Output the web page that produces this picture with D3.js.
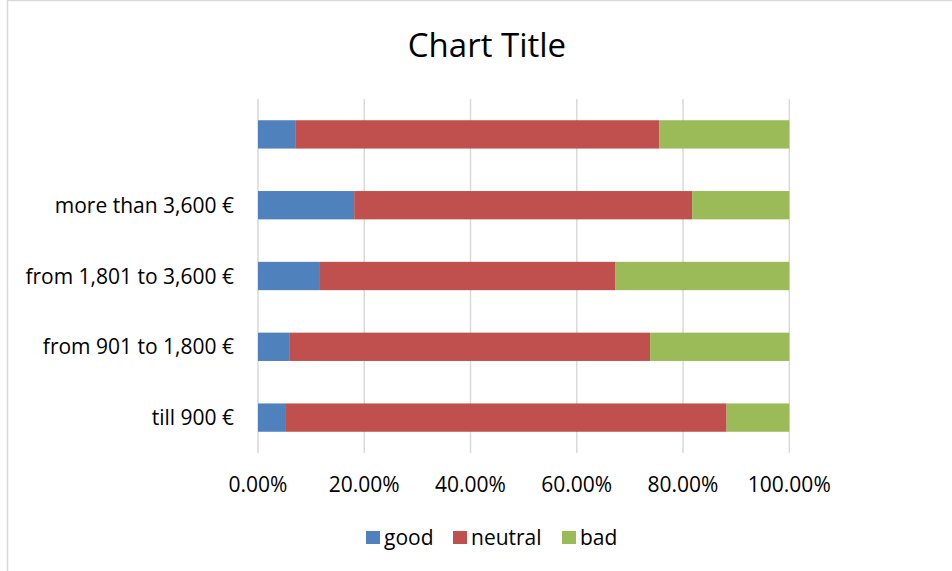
<!DOCTYPE html>
<html>
<head>
<meta charset="utf-8">
<script src="https://cdn.jsdelivr.net/npm/d3@7"></script>
<style>
  html, body { margin: 0; padding: 0; background: #fff; }
  svg text { font-family: "Open Sans", sans-serif; fill: #000; }
</style>
</head>
<body>
<svg id="chart" width="952" height="571"></svg>
<script>
// Income groups (bottom to top) and share of answers per group, in percent
const categories = ["till 900 €", "from 901 to 1,800 €", "from 1,801 to 3,600 €", "more than 3,600 €", ""];
const good    = [5.1, 6.0, 11.5, 18.1, 7.0];
const neutral = [83.1, 67.8, 55.7, 63.6, 68.5];
const bad     = [11.8, 26.2, 32.8, 18.3, 24.5];
const seriesNames = ["good", "neutral", "bad"];
const seriesColors = ["#4f81bd", "#c0504d", "#9bbb59"];
const tickValues = [0, 20, 40, 60, 80, 100];

const svg = d3.select("#chart");

// outer chart frame
svg.append("rect")
  .attr("x", 7.5).attr("y", 0.5)
  .attr("width", 960).attr("height", 600)
  .attr("fill", "none").attr("stroke", "#d9d9d9").attr("stroke-width", 1.5);

const plot = { left: 258, right: 789.3, top: 99, bottom: 453 };

const x = d3.scaleLinear().domain([0, 100]).range([plot.left, plot.right]);
const y = d3.scaleBand()
  .domain(categories.slice().reverse())
  .range([plot.top, plot.bottom])
  .paddingInner(0.6)
  .paddingOuter(0.3);

// vertical gridlines
svg.append("g")
  .selectAll("line")
  .data(tickValues)
  .join("line")
  .attr("x1", d => x(d)).attr("x2", d => x(d))
  .attr("y1", plot.top).attr("y2", plot.bottom)
  .attr("stroke", "#d9d9d9").attr("stroke-width", 1.5);

// stacked bars
const rows = categories.map((c, i) => ({ cat: c, good: good[i], neutral: neutral[i], bad: bad[i] }));
const stack = d3.stack().keys(seriesNames)(rows);

svg.append("g")
  .selectAll("g")
  .data(stack)
  .join("g")
  .attr("fill", (d, i) => seriesColors[i])
  .selectAll("rect")
  .data(d => d)
  .join("rect")
  .attr("x", d => x(d[0]))
  .attr("width", d => x(d[1]) - x(d[0]))
  .attr("y", d => y(d.data.cat))
  .attr("height", y.bandwidth());

const labelSize = 21;

// category axis labels
svg.append("g")
  .selectAll("text")
  .data(categories)
  .join("text")
  .attr("x", 234)
  .attr("y", d => y(d) + y.bandwidth() / 2)
  .attr("dy", "0.36em")
  .attr("text-anchor", "end")
  .attr("font-size", labelSize)
  .text(d => d);

// value axis labels
const fmt = d3.format(".2f");
svg.append("g")
  .selectAll("text")
  .data(tickValues)
  .join("text")
  .attr("x", d => x(d))
  .attr("y", 492)
  .attr("text-anchor", "middle")
  .attr("font-size", labelSize)
  .text(d => fmt(d) + "%");

// title
svg.append("text")
  .attr("x", 487).attr("y", 57)
  .attr("text-anchor", "middle")
  .attr("font-size", 33)
  .text("Chart Title");

// legend
const legendX = [366, 453, 562];
const lg = svg.append("g")
  .selectAll("g")
  .data(seriesNames)
  .join("g")
  .attr("transform", (d, i) => `translate(${legendX[i]},531)`);
lg.append("rect")
  .attr("width", 14).attr("height", 13)
  .attr("fill", (d, i) => seriesColors[i]);
lg.append("text")
  .attr("x", 18).attr("y", 14)
  .attr("font-size", labelSize)
  .text(d => d);
</script>
</body>
</html>
